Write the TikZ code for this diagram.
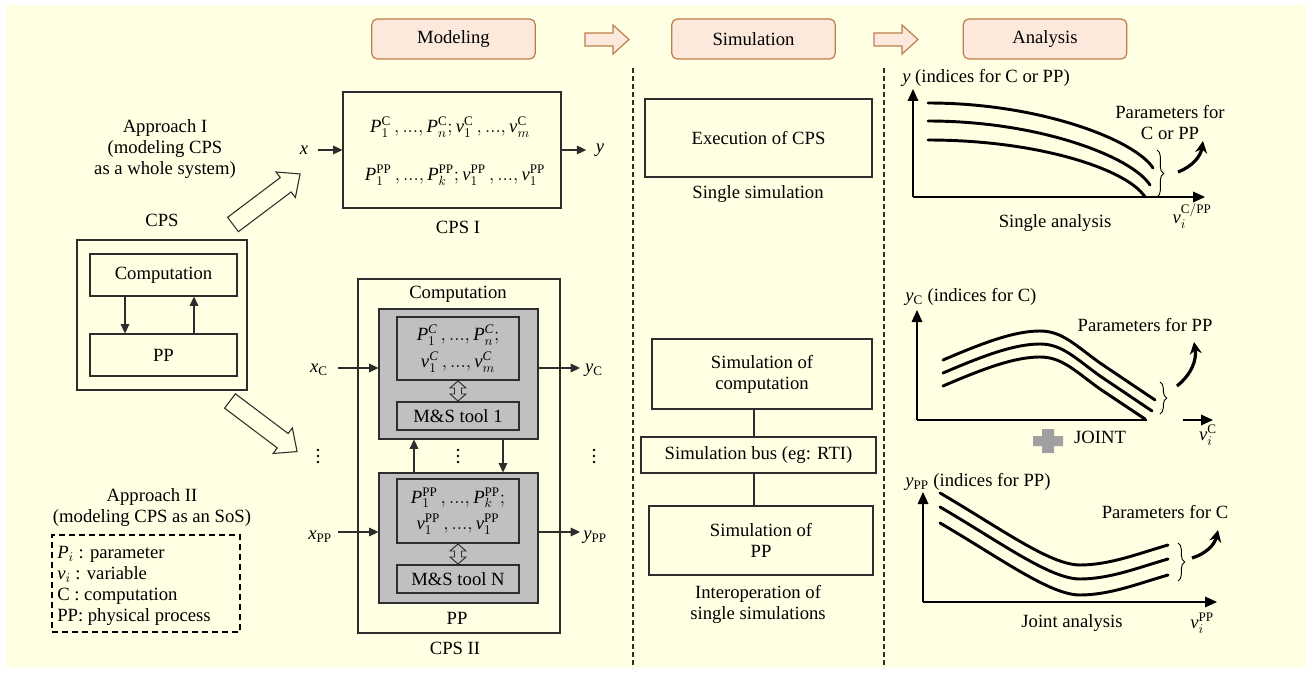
\documentclass[tikz,border=0pt]{standalone}
\usepackage{fontspec}
\setmainfont{Liberation Serif}
\usetikzlibrary{arrows.meta,decorations.pathreplacing}
\definecolor{bgyellow}{RGB}{255,255,228}
\definecolor{hdrfill}{RGB}{253,233,220}
\definecolor{hdrdraw}{RGB}{190,125,75}
\definecolor{boxgray}{RGB}{192,192,192}
\definecolor{plusgray}{RGB}{160,160,160}
\definecolor{linecol}{RGB}{45,45,45}
\newcommand{\mi}[1]{\mathit{#1}}
\newcommand{\dts}{\,\mathrm{,...,}\,}
\begin{document}
\begin{tikzpicture}[x=0.75pt,y=-0.75pt,
  font=\fontsize{14}{15.75}\selectfont,
  box/.style={draw=linecol,line width=0.8pt,inner sep=0pt,align=center},
  hdr/.style={draw=hdrdraw,fill=hdrfill,line width=0.9pt,rounded corners=4pt,minimum width=122.5pt,minimum height=30pt,inner sep=0pt},
  hdrarrow/.style={draw=hdrdraw,fill=hdrfill,line width=0.9pt},
  bigarrow/.style={draw=linecol,fill=bgyellow,line width=0.8pt},
  arr/.style={draw=linecol,line width=0.8pt,-{Triangle[length=7pt,width=6.5pt]}},
  axis/.style={draw=black,line width=1pt,-{Triangle[length=9pt,width=8pt]}},
  crv/.style={line width=2.2pt,line cap=round},
  brc/.style={decorate,decoration={brace,amplitude=5pt},line width=0.7pt},
  swoosh/.style={line width=2.4pt,-{Stealth[length=9pt,width=9pt]}},
  lbl/.style={inner sep=0pt,align=center},
  sep/.style={draw=linecol,line width=0.8pt,dash pattern=on 3.75pt off 2.25pt}
]
\fill[white] (0,0) rectangle (1312,673);
\useasboundingbox (0,0) rectangle (1312,673);
\fill[bgyellow] (6,5) rectangle (1306,668);

% header
\node[hdr] (model) at (453.5,39) {Modeling};
\node[hdr] (sim) at (753.5,39) {Simulation};
\node[hdr] (anal) at (1045,39) {Analysis};
\draw[hdrarrow] (585,33) -- (613,33) -- (613,25) -- (629,39.5) -- (613,54) -- (613,46) -- (585,46) -- cycle;
\draw[hdrarrow] (874,33) -- (902,33) -- (902,25) -- (918,39.5) -- (902,54) -- (902,46) -- (874,46) -- cycle;

% separators
\draw[sep] (633,68) -- (633,668);
\draw[sep] (884,68) -- (884,668);

% left column
\node[lbl] (appI) at (165,149) {Approach I\\(modeling CPS\\as a whole system)};
\node[lbl] (cpslbl) at (162,220) {CPS};
\node[box,minimum width=127.5pt,minimum height=112.5pt] (cps) at (162,315) {};
\node[box,minimum width=110.25pt,minimum height=31.5pt] (comp) at (163.5,275) {Computation};
\node[box,minimum width=110.25pt,minimum height=31.5pt] (pp) at (163.5,355) {PP};
\coordinate (dnx) at (125,0);
\coordinate (upx) at (194,0);
\draw[arr] (comp.south -| dnx) -- (pp.north -| dnx);
\draw[arr] (pp.north -| upx) -- (comp.south -| upx);

\begin{scope}[shift={(233,224.5)},rotate=37]
\draw[bigarrow] (0,9) -- (66,9) -- (66,16) -- (84,0) -- (66,-16) -- (66,-9) -- (0,-9) -- cycle;
\end{scope}
\begin{scope}[shift={(230,401)},rotate=-37]
\draw[bigarrow] (0,9) -- (66,9) -- (66,16) -- (84,0) -- (66,-16) -- (66,-9) -- (0,-9) -- cycle;
\end{scope}

\node[lbl] (appII) at (152,508) {Approach II\\(modeling CPS as an SoS)};
\node[draw=black,line width=1.3pt,dash pattern=on 4.5pt off 3pt,minimum width=141pt,minimum height=72.75pt,inner sep=0pt] (legend) at (146,583.5) {};
\node[anchor=north west,align=left,inner sep=0pt] (legtext) at (57,546) {$\mi{P}_i$ : parameter\\$\mi{v}_i$ : variable\\C : computation\\PP: physical process};

% CPS I
\node[box,minimum width=163.5pt,minimum height=87pt] (cpsI) at (452,150) {};
\node[lbl] (cpsIa) at (450,127) {$\mi{P}_1^{\mathrm{C}}\dts\mi{P}_n^{\mathrm{C}}\mathrm{;}\,\mi{v}_1^{\mathrm{C}}\dts\mi{v}_m^{\mathrm{C}}$};
\node[lbl] (cpsIb) at (455,175) {$\mi{P}_1^{\mathrm{PP}}\dts\mi{P}_k^{\mathrm{PP}}\mathrm{;}\,\mi{v}_1^{\mathrm{PP}}\dts\mi{v}_1^{\mathrm{PP}}$};
\node[lbl] (cpsIl) at (458,227) {CPS I};
\node[lbl] (xl) at (304,150) {$\mi{x}$};
\node[lbl] (yl) at (600,150) {$\mi{y}$};
\draw[arr] ([xshift=7pt]xl.east) -- (cpsI.west);
\draw[arr] (cpsI.east) -- ([xshift=-7pt]yl.west);

% CPS II
\node[box,minimum width=151.5pt,minimum height=265.5pt] (cpsII) at (459,456) {};
\node[lbl] (compII) at (458,294) {Computation};
\node[box,fill=boxgray,minimum width=119.25pt,minimum height=97.5pt] (g1) at (458.5,374) {};
\node[box,minimum width=91.5pt,minimum height=47.25pt,font=\fontsize{14}{20}\selectfont] (p1) at (458,348.5) {$\mi{P}_1^{\mi{C}}\dts\mi{P}_n^{\mi{C}}\mathrm{;}$\\$\mi{v}_1^{\mi{C}}\dts\mi{v}_m^{\mi{C}}$};
\node[box,minimum width=91.5pt,minimum height=21pt] (t1) at (458,416) {M\&S tool 1};
\node[box,fill=boxgray,minimum width=119.25pt,minimum height=97.5pt] (g2) at (458.5,538) {};
\node[box,minimum width=91.5pt,minimum height=48pt,font=\fontsize{14}{20}\selectfont] (p2) at (458,511) {$\mi{P}_1^{\mathrm{PP}}\dts\mi{P}_k^{\mathrm{PP}}\mathrm{;}$\\$\mi{v}_1^{\mathrm{PP}}\dts\mi{v}_1^{\mathrm{PP}}$};
\node[box,minimum width=91.5pt,minimum height=21pt] (tN) at (458,579) {M\&S tool N};
\foreach \dy in {0,163}{
  \begin{scope}[yshift=-\dy*0.75pt]
  \draw[linecol,fill=boxgray,line width=0.7pt] (458,381) -- (466,388) -- (461.5,388) -- (461.5,394) -- (466,394) -- (458,401) -- (450,394) -- (454.5,394) -- (454.5,388) -- (450,388) -- cycle;
  \end{scope}
}
\coordinate (ua) at (414,0);
\coordinate (da) at (503,0);
\draw[arr] (g2.north -| ua) -- (g1.south -| ua);
\draw[arr] (g1.south -| da) -- (g2.north -| da);

\node[lbl] (xc) at (319,370) {$\mi{x}_{\mathrm{C}}$};
\node[lbl] (yc) at (594,370) {$\mi{y}_{\mathrm{C}}$};
\coordinate (xcin) at (338,368);
\coordinate (ycout) at (580,368);
\draw[arr] (xcin) -- (xcin -| g1.west);
\draw[arr] (ycout -| g1.east) -- (ycout);
\node[lbl] (xpp) at (320,537) {$\mi{x}_{\mathrm{PP}}$};
\node[lbl] (ypp) at (595,537) {$\mi{y}_{\mathrm{PP}}$};
\coordinate (xpin) at (338,532);
\coordinate (ypout) at (580,532);
\draw[arr] (xpin) -- (xpin -| g2.west);
\draw[arr] (ypout -| g2.east) -- (ypout);

\foreach \x in {318,458,594}{
  \foreach \y in {450,456,462}{
    \fill (\x,\y) circle (1.1pt);
  }
}
\node[lbl] (ppII) at (457,618) {PP};
\node[lbl] (cpsIIl) at (455,648) {CPS II};

% simulation column
\node[box,minimum width=170.25pt,minimum height=58.5pt] (exec) at (758.5,138) {Execution of CPS};
\node[lbl] (single) at (758,194) {Single simulation};
\node[box,minimum width=165pt,minimum height=52.5pt] (simc) at (762,374) {Simulation of\\computation};
\node[box,minimum width=176.25pt,minimum height=27pt] (bus) at (758.5,455) {Simulation bus (eg: RTI)};
\node[box,minimum width=168pt,minimum height=51.75pt] (simp) at (761,540.5) {Simulation of\\PP};
\node[lbl] (interop) at (758,604) {Interoperation of\\single simulations};
\coordinate (busx) at (754,0);
\draw[linecol,line width=0.8pt] (simc.south -| busx) -- (bus.north -| busx);
\draw[linecol,line width=0.8pt] (bus.south -| busx) -- (simp.north -| busx);

% analysis: single
\coordinate (o1) at (913,197);
\coordinate (ya1) at (913,89);
\coordinate (xa1) at (1205,197);
\draw[axis] (o1) -- (ya1);
\draw[axis] (o1) -- (xa1);
\node[anchor=west,inner sep=0pt] (ylab1) at (902,78) {$\mi{y}$ (indices for C or PP)};
\draw[crv] (928,103) .. controls (1040,103) and (1135,140) .. (1153,168);
\draw[crv] (928,121) .. controls (1040,121) and (1132,157) .. (1150,185);
\draw[crv] (928,140) .. controls (1040,140) and (1128,170) .. (1145,197);
\draw[brc] (1157,150) -- (1157,197);
\draw[swoosh] (1178,172) to[bend right=30] (1203,141);
\node[lbl] (par1) at (1170,123) {Parameters for\\C or PP};
\node[lbl] (v1) at (1192,216) {$\mi{v}_i^{\mathrm{C/PP}}$};
\node[lbl] (sa) at (1055,223) {Single analysis};

% analysis: computation
\coordinate (o2) at (917,420);
\coordinate (ya2) at (917,310);
\coordinate (xb2) at (1147,420);
\coordinate (xc2) at (1183,420);
\coordinate (xa2) at (1213,420);
\draw[axis] (o2) -- (ya2);
\draw[line width=1pt] (o2) -- (xb2);
\draw[axis] (xc2) -- (xa2);
\node[anchor=west,inner sep=0pt] (ylab2) at (905,297) {$\mi{y}_{\mathrm{C}}$ (indices for C)};
\draw[crv] (943,360) .. controls (985,342) and (1015,331) .. (1040,331) .. controls (1062,331) and (1075,345) .. (1100,363) -- (1155,400);
\draw[crv] (943,373) .. controls (985,355) and (1015,344) .. (1040,344) .. controls (1062,344) and (1075,358) .. (1100,376) -- (1152,411);
\draw[crv] (943,386) .. controls (985,368) and (1015,357) .. (1040,357) .. controls (1062,357) and (1075,371) .. (1100,389) -- (1145,419);
\draw[brc] (1160,382) -- (1160,414);
\draw[swoosh] (1177,386) to[bend right=30] (1194,342);
\node[lbl] (par2) at (1145,325) {Parameters for PP};
\fill[plusgray] (1042,429) -- (1054,429) -- (1054,436) -- (1063,436) -- (1063,446) -- (1054,446) -- (1054,453) -- (1042,453) -- (1042,446) -- (1033,446) -- (1033,436) -- (1042,436) -- cycle;
\node[lbl] (joint) at (1100,437) {JOINT};
\node[lbl] (v2) at (1208,435) {$\mi{v}_i^{\mathrm{C}}$};

% analysis: physical process
\coordinate (o3) at (923,602);
\coordinate (ya3) at (923,492);
\coordinate (xa3) at (1217,602);
\draw[axis] (o3) -- (ya3);
\draw[axis] (o3) -- (xa3);
\node[anchor=west,inner sep=0pt] (ylab3) at (905,482) {$\mi{y}_{\mathrm{PP}}$ (indices for PP)};
\foreach \dy in {0,14,30}{
  \begin{scope}[yshift=-\dy*0.75pt]
  \draw[crv] (940,493) .. controls (1000,528) and (1050,565) .. (1080,565) .. controls (1110,565) and (1140,553) .. (1168,545);
  \end{scope}
}
\draw[brc] (1178,543) -- (1178,581);
\draw[swoosh] (1192,558) to[bend right=30] (1218,530);
\node[lbl] (par3) at (1165,512) {Parameters for C};
\node[lbl] (ja) at (1072,623) {Joint analysis};
\node[lbl] (v3) at (1202,623) {$\mi{v}_i^{\mathrm{PP}}$};
\end{tikzpicture}
\end{document}
